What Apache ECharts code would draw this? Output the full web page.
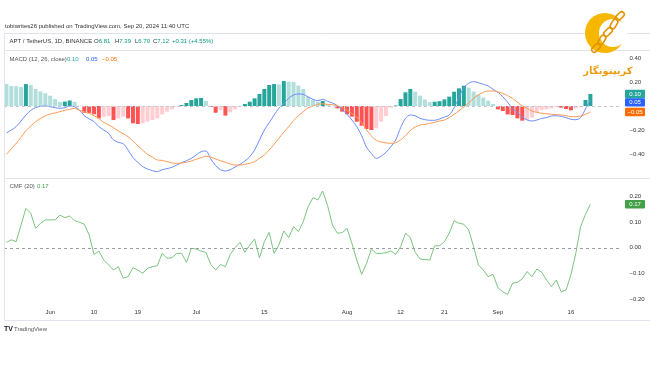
<!DOCTYPE html>
<html><head><meta charset="utf-8">
<script src="https://cdn.jsdelivr.net/npm/echarts@6/dist/echarts.min.js"></script>
<style>html,body{margin:0;padding:0;background:#fff}#c{width:650px;height:365px}</style>
</head><body><div id="c"></div>
<script>
// ---------- data ----------
const startDate = '2024-05-23';
const categoryCount = 127; // daily slots incl. empty right margin
const tickDates = ['2024-06-01','2024-06-10','2024-06-19','2024-07-01','2024-07-15','2024-08-01','2024-08-12','2024-08-21','2024-09-01','2024-09-16'];
const tickTexts = ['Jun','10','19','Jul','15','Aug','12','21','Sep','16'];
const macdTicks = [0.4, 0.2, -0.2, -0.4];
const cmfTicks = [0.2, 0.1, 0, -0.1, -0.2];

const macdHist = [
 0.183,0.167,0.165,0.158,0.183,0.175,0.142,0.122,0.106,0.086,
 0.058,0.033,0.037,0.046,0.035,0.003,-0.056,-0.058,-0.069,-0.103,
 -0.09,-0.085,-0.117,-0.103,-0.089,-0.103,-0.144,-0.15,-0.144,-0.13,
 -0.117,-0.103,-0.07,-0.047,-0.028,-0.006,0.008,0.025,0.05,0.064,
 0.067,0.042,-0.008,-0.056,-0.035,-0.08,-0.053,-0.03,-0.005,0.017,
 0.036,0.064,0.1,0.142,0.175,0.183,0.18,0.208,0.203,0.2,
 0.17,0.142,0.078,0.05,0.036,0.042,0.014,0.003,-0.02,-0.047,
 -0.069,-0.089,-0.131,-0.164,-0.192,-0.2,-0.186,-0.131,-0.083,-0.014,
 0.004,0.058,0.114,0.142,0.119,0.086,0.055,0.033,0.036,0.04,
 0.055,0.078,0.119,0.147,0.169,0.153,0.12,0.097,0.07,0.044,
 0.017,-0.028,-0.042,-0.07,-0.075,-0.103,-0.122,-0.117,-0.097,-0.053,
 -0.033,-0.028,-0.019,-0.011,-0.014,-0.025,-0.036,-0.019,-0.011,0.05,
 0.1];
const macdLine = [
 -0.225,-0.2,-0.172,-0.125,-0.075,-0.036,-0.014,-0.003,0.0,-0.006,
 -0.014,-0.019,-0.014,0.0,-0.006,-0.033,-0.08,-0.108,-0.13,-0.172,
 -0.2,-0.228,-0.283,-0.303,-0.314,-0.367,-0.43,-0.47,-0.505,-0.525,
 -0.539,-0.547,-0.531,-0.522,-0.511,-0.492,-0.472,-0.456,-0.436,-0.408,
 -0.381,-0.375,-0.442,-0.497,-0.531,-0.542,-0.531,-0.508,-0.486,-0.458,
 -0.422,-0.367,-0.283,-0.2,-0.139,-0.075,-0.019,0.022,0.064,0.092,
 0.1,0.097,0.075,0.056,0.044,0.056,0.039,0.025,0.003,-0.031,
 -0.069,-0.117,-0.172,-0.247,-0.344,-0.397,-0.436,-0.419,-0.386,-0.339,
 -0.283,-0.181,-0.103,-0.075,-0.081,-0.103,-0.114,-0.119,-0.119,-0.108,
 -0.092,-0.075,-0.015,0.073,0.154,0.19,0.203,0.194,0.181,0.167,
 0.139,0.114,0.078,0.031,-0.019,-0.053,-0.089,-0.117,-0.125,-0.117,
 -0.103,-0.097,-0.083,-0.081,-0.086,-0.097,-0.111,-0.114,-0.097,-0.025,
 0.05];
const signalLine = [
 -0.403,-0.358,-0.311,-0.261,-0.206,-0.167,-0.131,-0.103,-0.081,-0.067,
 -0.058,-0.047,-0.036,-0.028,-0.02,-0.035,-0.047,-0.062,-0.08,-0.105,
 -0.136,-0.158,-0.181,-0.208,-0.231,-0.256,-0.292,-0.331,-0.367,-0.403,
 -0.425,-0.45,-0.453,-0.464,-0.475,-0.478,-0.475,-0.469,-0.458,-0.444,
 -0.431,-0.419,-0.425,-0.442,-0.456,-0.469,-0.483,-0.492,-0.492,-0.486,
 -0.478,-0.464,-0.436,-0.408,-0.367,-0.319,-0.269,-0.219,-0.172,-0.122,
 -0.081,-0.047,-0.015,0.0,0.015,0.018,0.014,0.011,0.003,-0.014,
 -0.036,-0.064,-0.092,-0.139,-0.2,-0.25,-0.286,-0.3,-0.308,-0.311,
 -0.306,-0.283,-0.247,-0.203,-0.175,-0.158,-0.153,-0.144,-0.136,-0.125,
 -0.117,-0.096,-0.07,-0.04,-0.007,0.024,0.064,0.092,0.114,0.125,
 0.125,0.117,0.106,0.086,0.064,0.031,0.0,-0.019,-0.042,-0.053,
 -0.061,-0.064,-0.069,-0.072,-0.075,-0.081,-0.089,-0.089,-0.083,-0.069,
 -0.05];
const cmf = [
 0.021,0.031,0.024,0.089,0.154,0.135,0.076,0.096,0.109,0.109,
 0.109,0.128,0.118,0.124,0.106,0.1,0.092,0.05,-0.026,-0.013,
 -0.048,-0.067,-0.087,-0.074,-0.119,-0.113,-0.078,-0.087,-0.1,-0.08,
 -0.074,-0.07,-0.022,-0.041,-0.039,-0.022,-0.022,-0.057,-0.002,-0.005,
 -0.013,-0.018,-0.065,-0.087,-0.065,-0.074,-0.026,0.001,0.021,-0.018,
 0.011,0.034,-0.039,0.024,0.06,-0.022,0.011,0.066,0.04,0.083,
 0.063,0.102,0.161,0.196,0.187,0.222,0.165,0.089,0.057,0.059,
 0.076,0.017,-0.048,-0.104,-0.061,-0.005,-0.022,-0.022,-0.019,-0.012,
 -0.026,0.004,0.057,0.04,-0.018,-0.044,-0.046,-0.048,0.008,0.008,
 0.024,0.057,0.106,0.096,0.092,0.07,0.004,-0.067,-0.087,-0.113,
 -0.104,-0.156,-0.172,-0.182,-0.139,-0.135,-0.122,-0.093,-0.113,-0.083,
 -0.096,-0.126,-0.152,-0.126,-0.172,-0.165,-0.106,-0.022,0.083,0.131,
 0.17];

// ---------- build ----------
const FONT = '"Liberation Sans", Arial, sans-serif';
const FS = 6;
const categories = [];
{
  const d0 = new Date(startDate + 'T00:00:00Z');
  for (let i = 0; i < categoryCount; i++) {
    const d = new Date(d0.getTime() + i * 86400000);
    categories.push(d.toISOString().slice(0, 10));
  }
}
const tickMap = {};
tickDates.forEach((d, k) => tickMap[d] = tickTexts[k]);

const C_UP = '#26a69a', C_UP_L = '#b2dfdb', C_DN = '#ff5252', C_DN_L = '#ffcdd2';
function histColor(i) {
  const v = macdHist[i], p = i > 0 ? macdHist[i - 1] : null;
  if (v >= 0) return (p !== null && p < v) ? C_UP : C_UP_L;
  return (p !== null && p < v) ? C_DN_L : C_DN;
}
function fmtNum(v) { const s = Math.abs(v).toFixed(2); return (v < -1e-9 ? '\u2212' : '') + s; }
function tickFormatter(list) {
  return function (v) {
    for (const t of list) if (Math.abs(t - v) < 1e-6) return fmtNum(t);
    return '';
  };
}
const axisLabelY = (list) => ({ margin: 7.5, fontSize: FS, color: '#333', fontFamily: FONT, formatter: tickFormatter(list) });
const xAx = (gi, show) => ({
  type: 'category', gridIndex: gi, data: categories, boundaryGap: true,
  axisLine: { show: false }, axisTick: { show: false }, splitLine: { show: false },
  axisLabel: show ? {
    show: true, margin: 5, fontSize: FS, color: '#333', fontFamily: FONT,
    interval: (idx, val) => tickMap[val] !== undefined,
    formatter: (val) => tickMap[val] || ''
  } : { show: false }
});

const chart = echarts.init(document.getElementById('c'), null, { renderer: 'canvas', width: 650, height: 365 });
chart.setOption({
  animation: false,
  backgroundColor: '#ffffff',
  grid: [
    { left: 4, right: 28, top: 50, height: 128 },
    { left: 4, right: 28, top: 178, height: 146.5 },
    { left: 4, right: 28, top: 300, height: 4 }
  ],
  xAxis: [xAx(0, false), xAx(1, false), xAx(2, true)],
  yAxis: [
    { type: 'value', gridIndex: 0, position: 'right', min: -0.6, max: 0.4667, interval: 0.2,
      axisLine: { show: false }, axisTick: { show: false }, splitLine: { show: false }, axisLabel: axisLabelY(macdTicks) },
    { type: 'value', gridIndex: 1, position: 'right', min: -0.3, max: 0.2729, interval: 0.1,
      axisLine: { show: false }, axisTick: { show: false }, splitLine: { show: false }, axisLabel: axisLabelY(cmfTicks) },
    { type: 'value', gridIndex: 2, show: false }
  ],
  series: [
    { type: 'line', xAxisIndex: 0, yAxisIndex: 0, data: [], z: 1, silent: true,
      markLine: { silent: true, symbol: 'none', label: { show: false }, animation: false,
        lineStyle: { type: [3, 3], color: '#c3c6ce', width: 1 }, data: [{ yAxis: 0 }] } },
    { type: 'bar', xAxisIndex: 0, yAxisIndex: 0, z: 2, barCategoryGap: '18%',
      data: macdHist.map((v, i) => ({ value: v, itemStyle: { color: histColor(i) } })) },
    { type: 'line', xAxisIndex: 0, yAxisIndex: 0, z: 3, data: macdLine, symbol: 'none', smooth: 0.3,
      lineStyle: { color: '#6b8cff', width: 1 } },
    { type: 'line', xAxisIndex: 0, yAxisIndex: 0, z: 3, data: signalLine, symbol: 'none', smooth: 0.3,
      lineStyle: { color: '#ff9a52', width: 1 } },
    { type: 'line', xAxisIndex: 1, yAxisIndex: 1, data: [], z: 1, silent: true,
      markLine: { silent: true, symbol: 'none', label: { show: false }, animation: false,
        lineStyle: { type: [3, 3], color: '#9a9da5', width: 1 }, data: [{ yAxis: 0 }] } },
    { type: 'line', xAxisIndex: 1, yAxisIndex: 1, z: 3, data: cmf, symbol: 'none',
      lineStyle: { color: '#7cc47f', width: 1 } }
  ]
});

// ---------- overlays ----------
const G = [];
const line = (x1, y1, x2, y2, c) => G.push({ type: 'line', silent: true, z: 50,
  shape: { x1, y1, x2, y2 }, style: { stroke: c || '#e0e3eb', lineWidth: 1 } });
const text = (x, y, t, fill, extra) => G.push(Object.assign({ type: 'text', x, y, silent: true, z: 60,
  style: Object.assign({ text: t, fill: fill || '#333', fontSize: FS, fontFamily: FONT, align: 'left', verticalAlign: 'middle' }, extra || {}) }));

// frame
line(4.5, 33.5, 650, 33.5);
line(4.5, 50.5, 650, 50.5);
line(4.5, 178.5, 650, 178.5);
line(4.5, 320.5, 650, 320.5);
line(4.5, 33.5, 4.5, 320.5);

// header / legends
text(5, 26, 'tobiwrites26 published on TradingView.com, Sep 20, 2024 11:40 UTC', '#333');
text(9.5, 41.5, 'APT / TetherUS, 1D, BINANCE', '#333');
const GREEN = '#089981';
const ohlc = [[94, 'O', '6.81'], [115, 'H', '7.39'], [135, 'L', '6.70'], [153, 'C', '7.12']];
ohlc.forEach(([x, l, v]) => G.push({ type: 'text', x, y: 41.5, silent: true, z: 60,
  style: { text: '{l|' + l + '}{v|' + v + '}', fontSize: FS, fontFamily: FONT, verticalAlign: 'middle',
    rich: { l: { fill: '#333', fontSize: FS, fontFamily: FONT }, v: { fill: GREEN, fontSize: FS, fontFamily: FONT } } } }));
text(172, 41.5, '+0.31 (+4.55%)', GREEN);

const lastH = macdHist[macdHist.length - 1], lastM = macdLine[macdLine.length - 1], lastS = signalLine[signalLine.length - 1];
const lastC = cmf[cmf.length - 1];
text(9.5, 59, 'MACD (12, 26, close)', '#555');
text(67, 59, fmtNum(lastH), C_UP);
text(86, 59, fmtNum(lastM), '#2962ff');
text(102, 59, fmtNum(lastS), '#ff6d00');
text(9.5, 186.5, 'CMF (20)', '#555');
text(37, 186.5, fmtNum(lastC), '#43a047');

// last-value boxes on price scale
function boxes(items, axisIdx) {
  const arr = items.map(it => ({ ...it, y: chart.convertToPixel({ yAxisIndex: axisIdx }, it.v) }))
    .sort((a, b) => a.y - b.y);
  const H = 8.4;
  for (let k = 1; k < arr.length; k++) if (arr[k].y - arr[k - 1].y < H) arr[k].y = arr[k - 1].y + H;
  arr.forEach(it => {
    G.push({ type: 'rect', silent: true, z: 70, shape: { x: 625, y: it.y - H / 2, width: 20, height: H, r: 1 }, style: { fill: it.c } });
    G.push({ type: 'text', silent: true, z: 71, x: 635, y: it.y,
      style: { text: fmtNum(it.v), fill: '#fff', fontSize: FS, fontFamily: FONT, align: 'center', verticalAlign: 'middle' } });
  });
}
boxes([{ v: lastH, c: C_UP }, { v: lastM, c: '#2962ff' }, { v: lastS, c: '#ff6d00' }], 0);
boxes([{ v: lastC, c: '#43a047' }], 1);

// TradingView footer
text(4, 329, 'TV', '#131722', { fontWeight: 'bold', fontSize: 7 });
text(14, 329, 'TradingView', '#555', { fontSize: 6 });

// Persian logo (top right)
G.push({ type: 'circle', silent: true, z: 80, shape: { cx: 605, cy: 33, r: 20 }, style: { fill: '#f6b700' } });
G.push({ type: 'circle', silent: true, z: 81, shape: { cx: 613, cy: 33, r: 14 }, style: { fill: '#ffffff' } });
[[620, 16], [614, 24], [608, 32], [602, 40], [596, 48]].forEach(([cx, cy], k) => G.push({
  type: 'rect', silent: true, z: 82, x: cx, y: cy, rotation: Math.PI / 4 + (k % 2 ? 0.25 : 0),
  shape: { x: -5, y: -2.6, width: 10, height: 5.2, r: 2.6 },
  style: { fill: 'none', stroke: '#e39400', lineWidth: 1.6 } }));
text(608, 71, 'کریپتونگار', '#ec9a0a', { fontFamily: '"DejaVu Sans", sans-serif', fontWeight: 'bold', fontSize: 10, align: 'center' });

chart.setOption({ graphic: { elements: G } });
</script>
</body></html>
